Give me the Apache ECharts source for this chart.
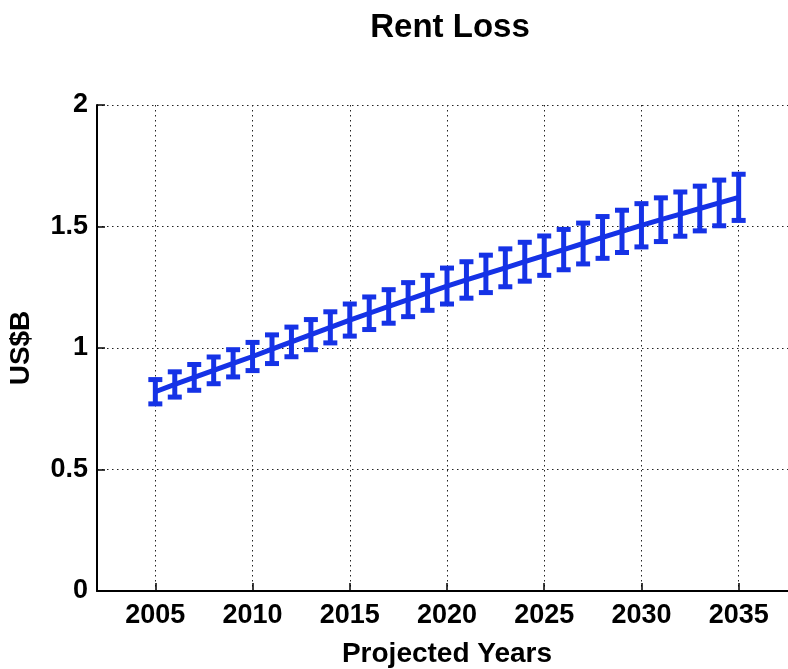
<!DOCTYPE html>
<html>
<head>
<meta charset="utf-8">
<script src="https://cdn.jsdelivr.net/npm/echarts@6/dist/echarts.min.js"></script>
<style>
  html, body { margin: 0; padding: 0; background: #fff; }
  #chart { width: 788px; height: 669px; }
</style>
</head>
<body>
<div id="chart"></div>
<script>
// Projected rent loss (US$ billions) with uncertainty range per year
const years = [2005, 2006, 2007, 2008, 2009, 2010, 2011, 2012, 2013, 2014,
               2015, 2016, 2017, 2018, 2019, 2020, 2021, 2022, 2023, 2024,
               2025, 2026, 2027, 2028, 2029, 2030, 2031, 2032, 2033, 2034, 2035];
const meanLoss = [0.820, 0.850, 0.879, 0.908, 0.937, 0.965, 0.995, 1.025, 1.055, 1.085,
                  1.115, 1.143, 1.171, 1.199, 1.227, 1.255, 1.280, 1.305, 1.330, 1.355,
                  1.380, 1.405, 1.430, 1.455, 1.480, 1.505, 1.528, 1.551, 1.574, 1.597, 1.620];
const errHalf = [0.050, 0.052, 0.053, 0.055, 0.056, 0.058, 0.059, 0.061, 0.062, 0.064,
                 0.066, 0.067, 0.069, 0.070, 0.072, 0.074, 0.075, 0.077, 0.078, 0.080,
                 0.081, 0.083, 0.084, 0.086, 0.087, 0.089, 0.090, 0.091, 0.092, 0.094, 0.095];
const xTicks = [2005, 2010, 2015, 2020, 2025, 2030, 2035];

const BLUE = '#1532e6';
const FONT = '"Liberation Sans", Arial, sans-serif';

const lineData = years.map((y, i) => [y, meanLoss[i]]);
const errData = years.map((y, i) => [y, meanLoss[i] - errHalf[i], meanLoss[i] + errHalf[i]]);

const chart = echarts.init(document.getElementById('chart'), null, { renderer: 'canvas' });

const gridLine = { show: true, lineStyle: { color: '#222', width: 1, type: [1.5, 3.5] } };

chart.setOption({
  backgroundColor: '#fff',
  animation: false,
  title: {
    text: 'Rent Loss',
    left: 445, top: 6, textAlign: 'center',
    textStyle: { fontFamily: FONT, fontWeight: 'bold', fontSize: 33, color: '#000' }
  },
  grid: { left: 97, top: 105, width: 700, height: 486, containLabel: false, outerBoundsMode: 'none' },
  xAxis: {
    type: 'value',
    min: 2002, max: 2038,
    name: 'Projected Years',
    nameLocation: 'middle', nameGap: 49,
    nameTextStyle: { fontFamily: FONT, fontWeight: 'bold', fontSize: 28, color: '#000' },
    axisLine: { show: true, onZero: false, lineStyle: { color: '#000', width: 2 } },
    axisTick: { show: true, inside: true, length: 8, customValues: xTicks, lineStyle: { color: '#000', width: 1.5 } },
    axisLabel: {
      customValues: xTicks, margin: 11,
      formatter: function (v) { return String(v); },
      fontFamily: FONT, fontWeight: 'bold', fontSize: 27, color: '#000'
    },
    splitLine: gridLine
  },
  yAxis: {
    type: 'value',
    min: 0, max: 2, interval: 0.5,
    name: 'US$B',
    nameLocation: 'middle', nameGap: 62, nameRotate: 90,
    nameTextStyle: { fontFamily: FONT, fontWeight: 'bold', fontSize: 28, color: '#000' },
    axisLine: { show: true, lineStyle: { color: '#000', width: 2 } },
    axisTick: { show: true, inside: true, length: 8, lineStyle: { color: '#000', width: 1.5 } },
    axisLabel: { margin: 9, fontFamily: FONT, fontWeight: 'bold', fontSize: 27, color: '#000' },
    splitLine: gridLine
  },
  series: [
    {
      type: 'line',
      data: lineData,
      symbol: 'none',
      lineStyle: { color: BLUE, width: 5 },
      z: 3
    },
    {
      type: 'custom',
      data: errData,
      z: 4,
      renderItem: function (params, api) {
        const x = api.value(0);
        const lo = api.coord([x, api.value(1)]);
        const hi = api.coord([x, api.value(2)]);
        const cap = 7;
        const style = { stroke: BLUE, lineWidth: 5, fill: null };
        return {
          type: 'group',
          children: [
            { type: 'line', shape: { x1: lo[0], y1: lo[1], x2: hi[0], y2: hi[1] }, style: style },
            { type: 'line', shape: { x1: lo[0] - cap, y1: lo[1], x2: lo[0] + cap, y2: lo[1] }, style: style },
            { type: 'line', shape: { x1: hi[0] - cap, y1: hi[1], x2: hi[0] + cap, y2: hi[1] }, style: style }
          ]
        };
      }
    }
  ]
});
</script>
</body>
</html>
